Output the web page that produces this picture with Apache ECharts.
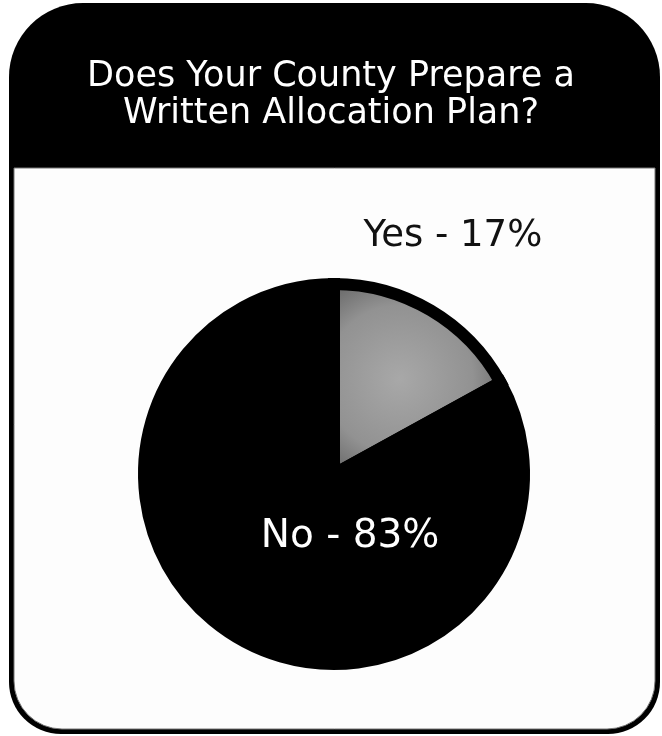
<!DOCTYPE html>
<html>
<head>
<meta charset="utf-8">
<script src="https://cdn.jsdelivr.net/npm/echarts@6/dist/echarts.min.js"></script>
<style>
  html, body { margin: 0; padding: 0; background: #fff; }
  #main { width: 662px; height: 736px; }
</style>
</head>
<body>
<div id="main"></div>
<script>
// data
var categories = ['Yes', 'No'];
var percents = [17, 83];
var titleText = 'Does Your County Prepare a\nWritten Allocation Plan?';

// slice styles, same order as categories
var yesFill = new echarts.graphic.RadialGradient(0.4, 0.5, 0.75, [
    { offset: 0, color: '#a8a8a8' },
    { offset: 0.55, color: '#929292' },
    { offset: 1, color: '#505050' }
]);
var sliceColors = [yesFill, '#000'];
var labelColors = ['#111', '#fff'];
var labelSizes = [37, 39];
var labelOffsets = [[69, -153], [66, -21]];

var chart = echarts.init(document.getElementById('main'));

var pieData = categories.map(function (name, i) {
    return {
        name: name,
        value: percents[i],
        itemStyle: { color: sliceColors[i] },
        label: {
            color: labelColors[i],
            fontSize: labelSizes[i],
            offset: labelOffsets[i]
        }
    };
});

chart.setOption({
    animation: false,
    backgroundColor: '#fff',
    title: {
        text: titleText,
        left: 'center',
        top: 53,
        textStyle: {
            color: '#fff',
            fontFamily: 'DejaVu Sans',
            fontWeight: 'normal',
            fontSize: 35,
            lineHeight: 37,
            align: 'center'
        }
    },
    graphic: [
        {
            // frame + header
            type: 'rect',
            z: -10,
            silent: true,
            shape: { x: 9, y: 3, width: 651, height: 731, r: [74, 74, 52, 52] },
            style: { fill: '#000' }
        },
        {
            // white body
            type: 'rect',
            z: -9,
            silent: true,
            shape: { x: 14, y: 168, width: 641, height: 561, r: [0, 0, 48, 48] },
            style: { fill: '#fdfdfd', stroke: '#777', lineWidth: 1 }
        }
    ],
    series: [
        {
            type: 'pie',
            center: [334, 474],
            radius: 190,
            startAngle: 90,
            clockwise: true,
            silent: true,
            itemStyle: {
                borderColor: '#000',
                borderWidth: 12,
                borderJoin: 'miter'
            },
            label: {
                show: true,
                position: 'inside',
                formatter: '{b} - {c}%',
                fontFamily: 'DejaVu Sans',
                fontWeight: 'normal'
            },
            labelLine: { show: false },
            data: pieData
        }
    ]
});
</script>
</body>
</html>
